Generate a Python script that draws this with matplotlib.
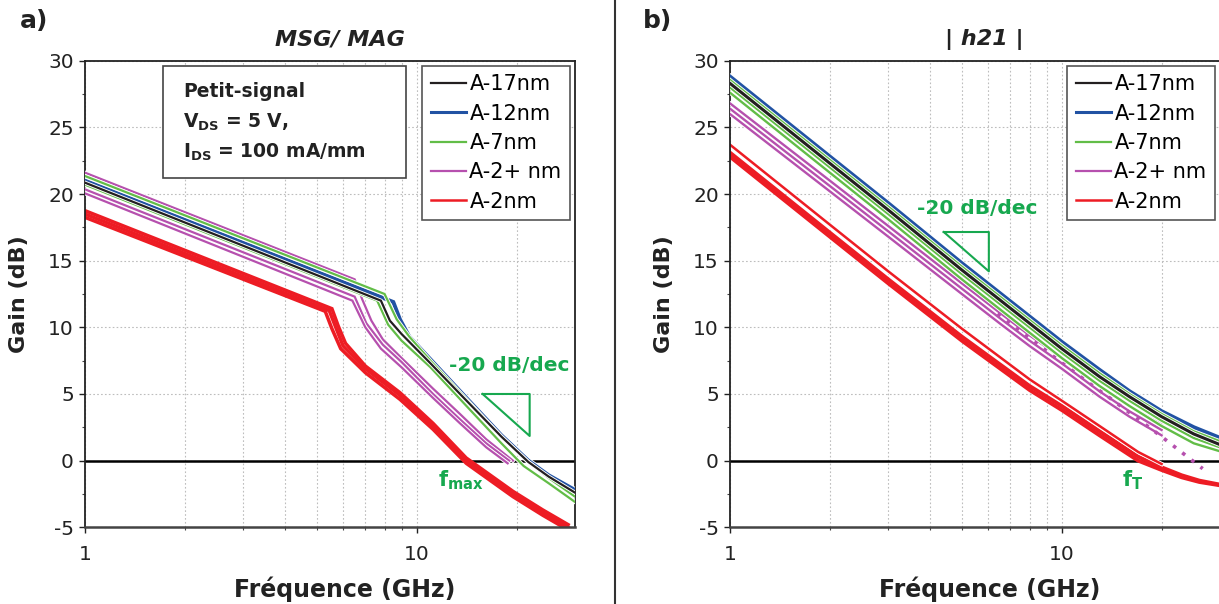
import numpy as np
import matplotlib
matplotlib.use("Agg")
import matplotlib.pyplot as plt
import matplotlib.patheffects as pe
from matplotlib.lines import Line2D
from matplotlib.patches import Rectangle
from matplotlib.ticker import FixedLocator, FuncFormatter, NullFormatter, MultipleLocator

plt.rcParams["font.family"] = ["DejaVu Sans"]
plt.rcParams["mathtext.fontset"] = "dejavusans"
plt.rcParams["axes.unicode_minus"] = False

# ---- a) MSG/MAG data (GHz, dB) ----
MSG_17_F = [1, 7.8, 8.3, 9.0, 11, 14, 18, 21.7, 25, 30]
MSG_17_G = [20.85, 12.0, 10.5, 9.5, 7.3, 4.6, 1.8, -0.1, -1.2, -2.4]

MSG_12_F = [1, 8.5, 8.9, 9.5, 11, 14, 18, 21.7, 25, 30]
MSG_12_G = [21.0, 11.9, 10.6, 9.3, 7.6, 4.8, 1.9, 0.0, -1.1, -2.2]

MSG_7_F = [[1, 8.0, 8.7, 9.5, 11, 14, 18, 21.7, 25, 30],
           [1, 7.6, 8.2, 9.0, 11, 14, 18, 21.0, 25, 30]]
MSG_7_G = [[21.35, 12.5, 10.6, 9.3, 7.5, 4.7, 1.8, -0.1, -1.3, -2.7],
           [20.7, 12.0, 10.2, 9.0, 7.0, 4.2, 1.3, -0.4, -1.7, -3.1]]

MSG_2P_F = [[1, 6.5, 6.85, 7.3, 7.9, 9, 11.2, 13.5, 16.2, 19.5],
            [1, 6.5, 7.05, 7.9, 9, 11.2, 13.5, 16.2, 19.0],
            [1, 6.4, 7.0, 7.8, 9, 11.2, 13.5, 16.2, 18.8]]
MSG_2P_G = [[21.6, 13.6, 12.1, 10.5, 9.1, 7.7, 5.4, 3.5, 1.6, 0.0],
            [20.35, 12.3, 10.3, 8.7, 7.4, 5.0, 3.1, 1.3, 0.0],
            [20.05, 12.0, 10.0, 8.4, 7.0, 4.7, 2.8, 1.0, -0.2]]

MSG_2_F = [[1, 5.45, 5.7, 6.0, 7.0, 8.9, 11.2, 14.1, 19.5, 24, 28.6],
           [1, 5.3, 5.55, 5.9, 7.0, 8.9, 11.2, 14.1, 19.5, 24, 28.6],
           [1, 5.55, 5.8, 6.1, 7.0, 8.9, 11.2, 14.1, 19.5, 24, 28.6]]
MSG_2_G = [[18.5, 11.25, 10.0, 8.6, 6.9, 4.9, 2.6, 0.0, -2.5, -3.9, -5.0],
           [18.25, 11.2, 9.9, 8.4, 6.6, 4.6, 2.35, -0.2, -2.7, -4.1, -5.2],
           [18.75, 11.4, 10.1, 8.8, 7.1, 5.1, 2.8, 0.2, -2.3, -3.7, -4.8]]

# ---- b) |h21| data ----
H21_F = [1, 2, 3, 5, 8, 10, 13, 16, 20, 25, 30]
H21_17_G = [28.3, 22.3, 18.8, 14.3, 10.3, 8.4, 6.3, 4.8, 3.3, 2.0, 1.2]
H21_12_G = [28.8, 22.8, 19.3, 14.8, 10.8, 8.9, 6.8, 5.2, 3.7, 2.5, 1.7]
H21_7_G = [[28.55, 22.55, 19.05, 14.55, 10.55, 8.65, 6.55, 5.0, 3.5, 2.2, 1.45],
           [28.0, 22.0, 18.5, 14.0, 10.0, 8.1, 6.0, 4.5, 3.0, 1.7, 1.0],
           [27.6, 21.6, 18.1, 13.6, 9.6, 7.7, 5.6, 4.1, 2.6, 1.3, 0.7]]

H21_2P_F = [1, 2, 3, 5, 6.5, 8, 10, 13, 16, 20]
H21_2P_G = [[26.8, 21.0, 17.6, 13.3, 11.1, 9.4, 7.7, 5.6, 4.1, 2.7],
            [26.4, 20.6, 17.2, 12.9, 10.7, 9.0, 7.3, 5.2, 3.7, 2.3],
            [26.0, 20.2, 16.8, 12.5, 10.3, 8.6, 6.9, 4.8, 3.3, 1.9]]
H21_EXTRAP_F = [6.4, 20, 26.6]
H21_EXTRAP_G = [11.0, 1.8, -0.6]

H21_2_F = [1, 2, 3, 5, 8, 10, 13, 17, 20, 23, 26, 30]
H21_2_G = [[23.1, 17.1, 13.6, 9.3, 5.6, 4.1, 2.2, 0.3, -0.5, -1.1, -1.5, -1.8],
           [22.8, 16.8, 13.3, 9.0, 5.3, 3.8, 1.9, 0.0, -0.7, -1.25, -1.6, -1.85]]
H21_2_THIN_F = [1, 2, 3, 5, 8, 10, 13, 17, 20]
H21_2_THIN_G = [23.7, 17.7, 14.2, 9.9, 6.1, 4.5, 2.6, 0.65, -0.25]

LABELS = ["A-17nm", "A-12nm", "A-7nm", "A-2+ nm", "A-2nm"]

C_BLACK = "#231f20"
C_BLUE = "#2152a3"
C_GREEN = "#62bd47"
C_MAG = "#b650ae"
C_RED = "#ed1c24"
C_ANN = "#17a84f"


def curve(ax, f, g, color, lw, z, outline=True, **kw):
    effects = [pe.Stroke(linewidth=lw + 1.3, foreground="white"), pe.Normal()] if outline else None
    ax.plot(f, g, color=color, lw=lw, zorder=z, path_effects=effects,
            solid_joinstyle="miter", **kw)


def style_axes(ax, title):
    ax.set_xscale("log")
    ax.set_xlim(1, 30)
    ax.set_ylim(-5, 30)
    ax.xaxis.set_major_locator(FixedLocator([1, 10]))
    ax.xaxis.set_major_formatter(FuncFormatter(lambda v, p: f"{v:g}"))
    ax.xaxis.set_minor_locator(FixedLocator([2, 3, 4, 5, 6, 7, 8, 9, 20]))
    ax.xaxis.set_minor_formatter(NullFormatter())
    ax.yaxis.set_major_locator(MultipleLocator(5))
    ax.yaxis.set_minor_locator(MultipleLocator(2.5))
    ax.tick_params(which="major", direction="out", length=4, width=1, labelsize=14.5,
                   colors="#222", pad=4)
    ax.tick_params(axis="x", which="major", pad=9)
    ax.tick_params(which="minor", direction="out", length=2.5, width=0.8, colors="#444")
    ax.grid(which="both", axis="x", ls=(0, (1.5, 2)), color="#bdbdbd", lw=0.8)
    ax.grid(which="major", axis="y", ls=(0, (1.5, 2)), color="#bdbdbd", lw=0.8)
    ax.axhline(0, color="black", lw=1.8, zorder=1.9)
    for s in ax.spines.values():
        s.set_linewidth(1.3)
        s.set_color("#222")
    ax.spines["bottom"].set_linewidth(1.8)
    ax.spines["bottom"].set_color("#444")
    ax.set_xlabel("Fréquence (GHz)", fontsize=17, fontweight="bold", color="#222")
    ax.xaxis.set_label_coords(0.53, -0.105)
    ax.set_ylabel("Gain (dB)", fontsize=16, fontweight="bold", color="#222")
    ax.yaxis.set_label_coords(-0.115, 0.5)
    ax.text(0.52, 1.045, title, transform=ax.transAxes, ha="center", va="center",
            fontsize=16, fontweight="bold", fontstyle="italic", color="#222")


def add_legend(ax):
    handles = [Line2D([], [], color=C_BLACK, lw=1.6),
               Line2D([], [], color=C_BLUE, lw=2.2),
               Line2D([], [], color=C_GREEN, lw=1.6),
               Line2D([], [], color=C_MAG, lw=1.6),
               Line2D([], [], color=C_RED, lw=1.8)]
    leg = ax.legend(handles, LABELS, loc="upper right", fontsize=15, frameon=True,
                    fancybox=False, framealpha=1, edgecolor="#555", handlelength=1.7,
                    handletextpad=0.15, labelspacing=0.45, borderpad=0.4,
                    borderaxespad=0.25)
    leg.get_frame().set_linewidth(1.2)
    leg.set_zorder(20)


fig = plt.figure(figsize=(12.19, 6.04), dpi=100)
ax1 = fig.add_axes([85 / 1219, 76.7 / 604, 490 / 1219, 466.6 / 604])
ax2 = fig.add_axes([730 / 1219, 76.7 / 604, 490 / 1219, 466.6 / 604])

# ---- panel a ----
for f, g in zip(MSG_2_F, MSG_2_G):
    curve(ax1, f, g, C_RED, 2.5, 2, outline=False)
for f, g in zip(MSG_2P_F, MSG_2P_G):
    curve(ax1, f, g, C_MAG, 1.6, 3)
curve(ax1, MSG_12_F, MSG_12_G, C_BLUE, 2.8, 4)
for f, g in zip(MSG_7_F, MSG_7_G):
    curve(ax1, f, g, C_GREEN, 1.6, 5)
curve(ax1, MSG_17_F, MSG_17_G, C_BLACK, 1.6, 6)

style_axes(ax1, "MSG/ MAG")
add_legend(ax1)

ax1.add_patch(Rectangle((0.159, 0.749), 0.496, 0.240, transform=ax1.transAxes,
                        facecolor="white", edgecolor="#444", lw=1.2, zorder=10))
ax1.text(0.2, 0.935, "Petit-signal", transform=ax1.transAxes, fontsize=13.5,
         fontweight="bold", color="#222", va="center", zorder=11)
ax1.text(0.2, 0.868, r"V$_{\mathbf{DS}}$ = 5 V,", transform=ax1.transAxes, fontsize=13.5,
         fontweight="bold", color="#222", va="center", zorder=11)
ax1.text(0.2, 0.803, r"I$_{\mathbf{DS}}$ = 100 mA/mm", transform=ax1.transAxes, fontsize=13.5,
         fontweight="bold", color="#222", va="center", zorder=11)

ax1.plot([15.8, 21.9, 21.9, 15.8], [5.0, 5.0, 1.85, 5.0], color=C_ANN, lw=1.5, zorder=8)
ax1.text(19.05, 7.1, "-20 dB/dec", color=C_ANN, fontsize=14.5, fontweight="bold",
         ha="center", va="center", zorder=8)
ax1.text(13.6, -1.5, r"f$_{\mathbf{max}}$", color=C_ANN, fontsize=15, fontweight="bold",
         ha="center", va="center", zorder=8)

# ---- panel b ----
for g in H21_2_G:
    curve(ax2, H21_2_F, g, C_RED, 2.8, 2, outline=False)
curve(ax2, H21_2_THIN_F, H21_2_THIN_G, C_RED, 1.8, 2.1)
for g in H21_2P_G:
    curve(ax2, H21_2P_F, g, C_MAG, 1.7, 3)
ax2.plot(H21_EXTRAP_F, H21_EXTRAP_G, color=C_MAG, lw=2.6, ls=(0, (1, 2.2)), zorder=3.5)
curve(ax2, H21_F, H21_12_G, C_BLUE, 3.0, 4)
for g in H21_7_G:
    curve(ax2, H21_F, g, C_GREEN, 1.7, 5)
curve(ax2, H21_F, H21_17_G, C_BLACK, 2.2, 6)

style_axes(ax2, "| h21 |")
add_legend(ax2)

ax2.plot([4.41, 6.03, 6.03, 4.41], [17.15, 17.15, 14.2, 17.15], color=C_ANN, lw=1.5, zorder=8)
ax2.text(5.55, 18.95, "-20 dB/dec", color=C_ANN, fontsize=14.5, fontweight="bold",
         ha="center", va="center", zorder=8)
ax2.text(16.4, -1.5, r"f$_{\mathbf{T}}$", color=C_ANN, fontsize=15, fontweight="bold",
         ha="center", va="center", zorder=8)

# panel letters and separator
fig.text(20 / 1219, 1 - 21 / 604, "a)", fontsize=18, fontweight="bold", va="center", color="#222")
fig.text(643 / 1219, 1 - 21 / 604, "b)", fontsize=18, fontweight="bold", va="center", color="#222")
fig.add_artist(Line2D([615 / 1219, 615 / 1219], [0, 1], transform=fig.transFigure,
                      color="#333", lw=1.5))

fig.savefig("out.png", dpi=100)
